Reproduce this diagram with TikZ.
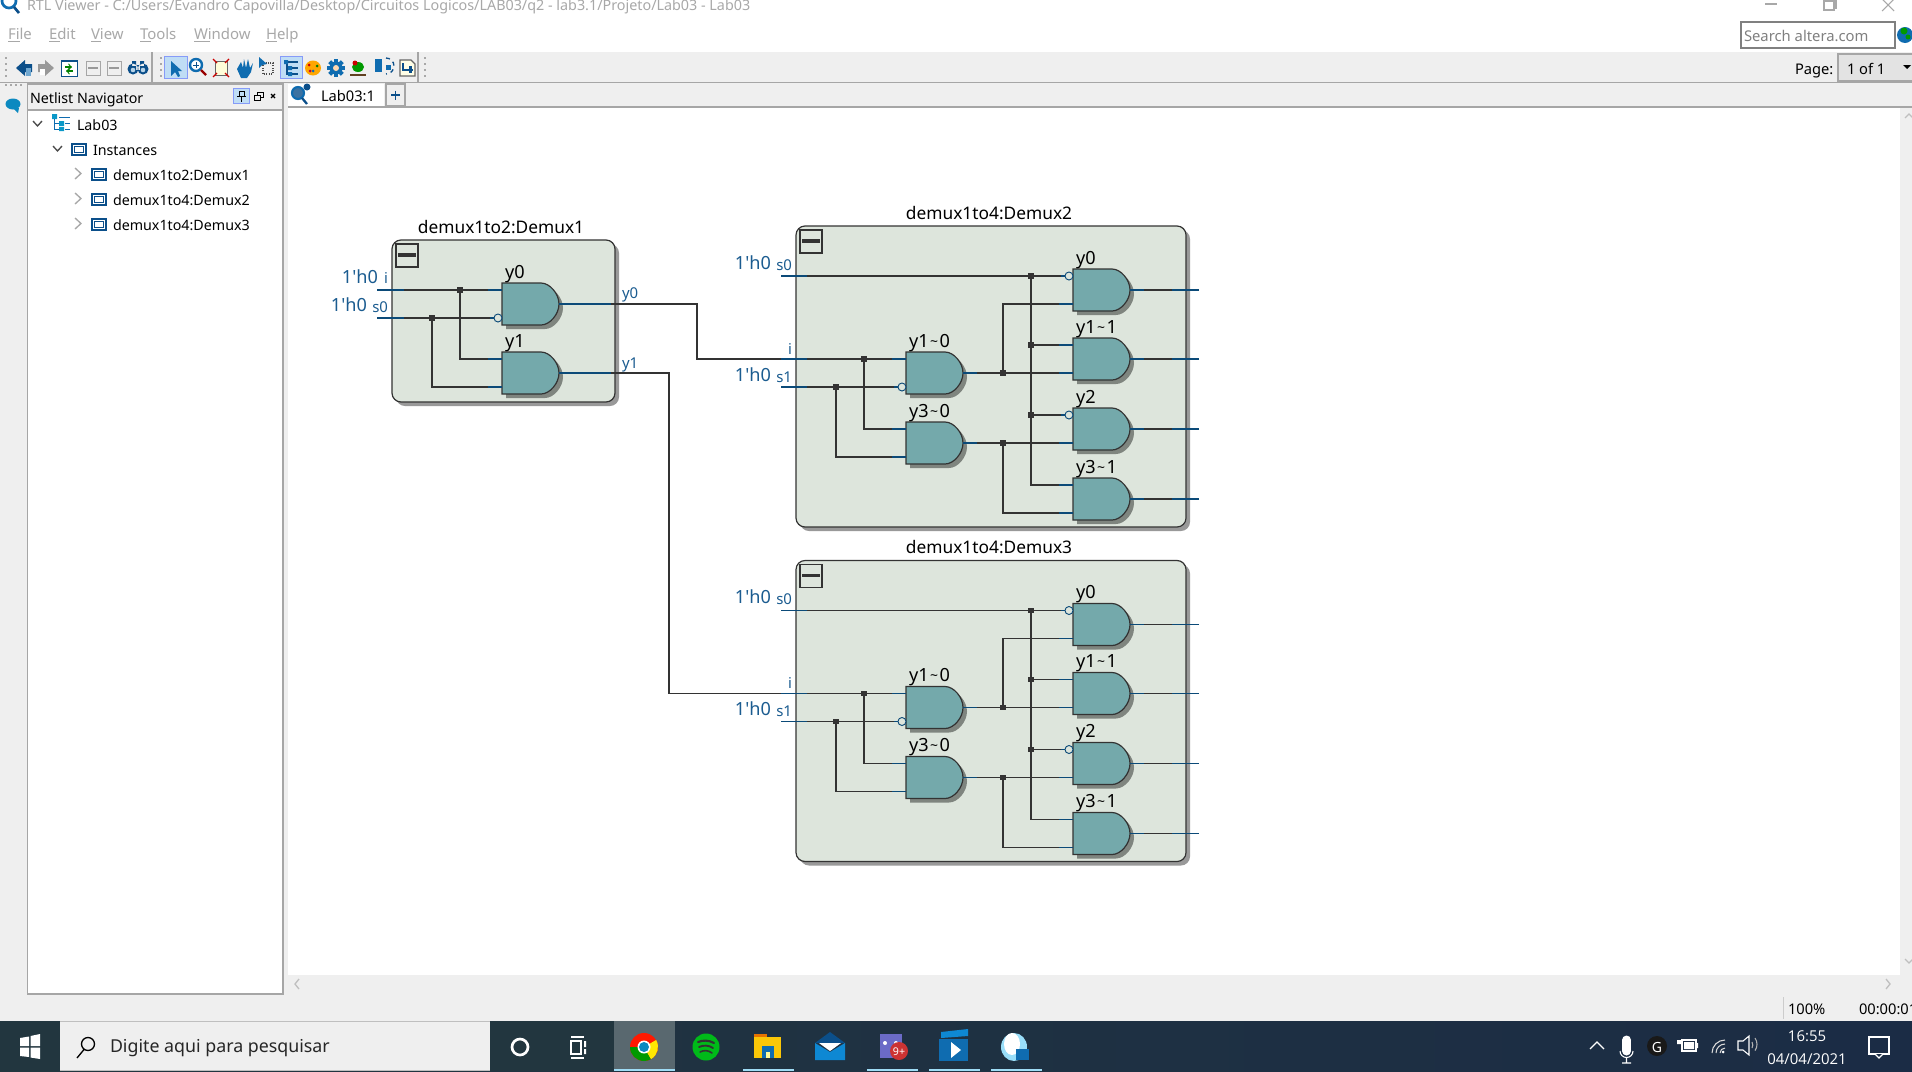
\documentclass[tikz,border=0pt]{standalone}
\usepackage{fontspec}
\setmainfont{Noto Sans}
\newfontfamily\tbfont{Open Sans}
\newfontfamily\plainf{Noto Sans}
\definecolor{wirec}{HTML}{333333}
\definecolor{bluec}{HTML}{0B4A78}
\definecolor{lblc}{HTML}{1B5C90}
\definecolor{boxc}{HTML}{DDE5DC}
\definecolor{boxs}{HTML}{999999}
\definecolor{gatec}{HTML}{74A9AB}
\definecolor{gates}{HTML}{7F857F}
\definecolor{barc}{HTML}{EFEFEF}
\definecolor{edgec}{HTML}{A6A6A6}
\definecolor{hic}{HTML}{BFDDF5}
\definecolor{iconb}{HTML}{0F6CB0}
\definecolor{iconn}{HTML}{0B4F8A}
\definecolor{uic}{HTML}{A8A8A8}
\definecolor{tbl}{HTML}{22363F}
\definecolor{tbr}{HTML}{1B2C45}
\definecolor{ulc}{HTML}{9FDCF5}
\newcount\lblcnt
\newcommand\fs[1]{\fontsize{#1}{#1}\selectfont}
\newcommand\lbl[4][]{\global\advance\lblcnt by 1 \node[txt,#1] (t\the\lblcnt) at (#2,#3) {#4};}
\newcommand\hz{1{\plainf '}h0}
\tikzset{
 x=0.75pt,y=-0.75pt,
 txt/.style={inner sep=0pt,outer sep=0pt,anchor=base west},
 wire/.style={draw=wirec,line width=0.9pt},
 stub/.style={draw=bluec,line width=0.9pt},
 junc/.style={rectangle,fill=wirec,draw=none,minimum size=5.2pt*0.75,inner sep=0pt,outer sep=0pt},
 gatebody/.style={draw=wirec,line width=0.9pt,fill=gatec},
 bub/.style={draw=bluec,line width=0.7pt,fill=boxc},
 big/.style={font=\fs{13}},
 port/.style={font=\fs{13.6},text=lblc},
 small/.style={font=\fs{11.2},text=lblc},
 ui/.style={font=\fs{10.7}},
 menu/.style={font=\fs{11.2},text=uic},
 ic/.style={draw=iconn,line width=1pt},
 hl/.style={fill=hic,draw=hic!70!blue,line width=0.6pt},
 tray/.style={draw=white,line width=0.9pt},
 tbtext/.style={font=\tbfont\fs{11.2},text=white}
}
\newcommand\gate[4]{%
 \begin{scope}[shift={(#2,#3)}]
  \fill[gates] (4,4) -- (43,4) .. controls (52,4) and (61,15) .. (61,25) .. controls (61,35) and (52,46) .. (43,46) -- (4,46) -- cycle;
  \path[gatebody] (0,0) -- (39,0) .. controls (48,0) and (57,11) .. (57,21) .. controls (57,31) and (48,42) .. (39,42) -- (0,42) -- cycle;
  \coordinate (#1a) at (0,7);
  \coordinate (#1b) at (0,35);
  \coordinate (#1n) at (-8,7);
  \coordinate (#1m) at (-8,35);
  \coordinate (#1o) at (57,21);
  \node[txt,big,font=\fs{13.6}] (#1l) at (3,-5) {#4};
 \end{scope}}
\newcommand\hier[6]{%
 \fill[boxs,rounded corners=9*0.75pt] (#2+4,#3+4) rectangle (#4+4,#5+4);
 \draw[draw=wirec,line width=0.9pt,fill=boxc,rounded corners=9*0.75pt] (#2,#3) rectangle (#4,#5);
 \draw[wirec,line width=0.8pt] (#2+4,#3+4) rectangle (#2+26,#3+27);
 \draw[wirec,line width=2.5pt] (#2+6,#3+15) -- (#2+24,#3+15);
 \coordinate (#1) at (#2,#3);
}
\newcommand\tl{\makebox[0.6em]{\raisebox{0.1ex}{\fs{10.5}\char"7E}}}
\newcommand\demuxfour[3]{%
 \begin{scope}[shift={(0,#2)}]
  \hier{#1box}{796}{226}{1186}{527}{}
  \node[txt,big,anchor=base] (#1title) at (989,219) {#3};
  \gate{#1A}{906}{352}{y1\tl 0}
  \gate{#1B}{906}{422}{y3\tl 0}
  \gate{#1C}{1073}{269}{y0}
  \gate{#1D}{1073}{338}{y1\tl 1}
  \gate{#1E}{1073}{408}{y2}
  \gate{#1F}{1073}{478}{y3\tl 1}
  \coordinate (#1ps) at (781,276);
  \coordinate (#1pi) at (781,359);
  \coordinate (#1pt) at (781,387);
  \node[junc] (#1j1) at (1031,276) {};
  \node[junc] (#1j2) at (1031,345) {};
  \node[junc] (#1j3) at (1031,415) {};
  \node[junc] (#1j4) at (864,359) {};
  \node[junc] (#1j5) at (836,387) {};
  \node[junc] (#1j6) at (1003,373) {};
  \node[junc] (#1j7) at (1003,443) {};
  \coordinate (#1q1) at (1199,290);
  \coordinate (#1q2) at (1199,359);
  \coordinate (#1q3) at (1199,429);
  \coordinate (#1q4) at (1199,499);
  \draw[wire] (#1ps) -- (#1j1) -- (#1Cn);
  \draw[wire] (#1j1) -- (#1j2) -- (#1j3) |- (#1Fa);
  \draw[wire] (#1j2) -- (#1Da);
  \draw[wire] (#1j3) -- (#1En);
  \draw[wire] (#1pi) -- (#1j4) -- (#1Aa);
  \draw[wire] (#1j4) |- (#1Ba);
  \draw[wire] (#1pt) -- (#1j5) -- (#1Am);
  \draw[wire] (#1j5) |- (#1Bb);
  \draw[wire] (#1Ao) -- (#1j6) -- (#1Db);
  \draw[wire] (#1j6) |- (#1Cb);
  \draw[wire] (#1Bo) -- (#1j7) -- (#1Eb);
  \draw[wire] (#1j7) |- (#1Fb);
  \draw[wire] (#1Co) -- (#1q1);
  \draw[wire] (#1Do) -- (#1q2);
  \draw[wire] (#1Eo) -- (#1q3);
  \draw[wire] (#1Fo) -- (#1q4);
  \foreach \c in {#1Aa,#1Ba,#1Bb,#1Cb,#1Da,#1Db,#1Eb,#1Fa,#1Fb}{\draw[stub] (\c) -- ++(-14,0);}
  \foreach \c in {#1Am,#1Cn,#1En}{\draw[stub] (\c) -- ++(-4,0);\draw[bub] ($(\c)+(4,0)$) circle (4);}
  \foreach \c in {#1Ao,#1Bo,#1Co,#1Do,#1Eo,#1Fo}{\draw[stub] (\c) -- ++(14,0);}
  \foreach \c in {#1q1,#1q2,#1q3,#1q4}{\draw[stub] (\c) -- ++(-27,0);}
  \foreach \c in {#1ps,#1pi,#1pt}{\draw[stub] (\c) -- ++(26,0);}
  \lbl[port,anchor=base east]{771}{269}{\hz}
  \lbl[small,anchor=base east]{792}{270}{s0}
  \lbl[small,anchor=base east]{792}{354}{i}
  \lbl[port,anchor=base east]{771}{381}{\hz}
  \lbl[small,anchor=base east]{792}{382}{s1}
 \end{scope}}
\usetikzlibrary{calc}
\begin{document}
\begin{tikzpicture}
\useasboundingbox (0,0) rectangle (1912,1071);
\clip (0,0) rectangle (1912,1071);
\fill[white] (0,0) rectangle (1912,1071);
% window chrome
\fill[barc] (0,52) rectangle (1912,1021);
\fill[white] (288,107) rectangle (1900,975);
\draw[edgec,line width=1pt] (0,82.5) -- (1912,82.5);
\draw[edgec,line width=1pt] (288,107) -- (1912,107);
\draw[edgec,line width=0.8pt] (152,52) -- (152,82);
\draw[edgec,line width=0.8pt] (418,52) -- (418,82);
% title bar
\draw[iconb,line width=2pt] (9,1) circle (7);
\draw[iconn,line width=2pt] (14,7) -- (19,13);
\lbl[font=\fs{10.76},text=uic]{27}{10}{RTL Viewer - C:/Users/Evandro Capovilla/Desktop/Circuitos Logicos/LAB03/q2 - lab3.1/Projeto/Lab03 - Lab03}
\draw[uic,line width=0.8pt] (1765,4) -- (1777,4);
\draw[uic,line width=0.8pt] (1824,1) rectangle (1834,10) (1827,1) -- (1827,-1) -- (1836,-1) -- (1836,8) -- (1834,8);
\draw[uic,line width=0.8pt] (1882,-1) -- (1894,11) (1894,-1) -- (1882,11);
\foreach \x/\t in {8/File,49/Edit,91/View,140/Tools,194/Window,266/Help}{\lbl[menu]{\x}{39}{\t}}
\foreach \a/\b in {8/20,49/60,91/101,140/151,194/210,266/277}{\draw[uic,line width=0.6pt] (\a,41) -- (\b,41);}
\draw[gray,line width=0.9pt,fill=white] (1741,22) rectangle (1895,48);
\lbl[font=\fs{11.1},text=gray]{1744}{41}{Search altera.com}
\fill[iconb] (1905,35) circle (8);
\fill[green!60!black] (1904,31) circle (3.5) (1908,37) circle (2.5);
\lbl[ui,font=\fs{11}]{1795}{74}{Page:}
\draw[edgec,fill=black!11,line width=0.8pt] (1838,54) rectangle (1914,81);
\lbl[ui,font=\fs{11}]{1847}{74}{1 of 1}
\fill[black] (1903,65) -- (1911,65) -- (1907,69) -- cycle;
% toolbar
\foreach \x in {5,160,424}{\foreach \y in {57,63,69,75}{\fill[uic] (\x,\y) rectangle (\x+1.5,\y+1.5);}}
\fill[iconn] (16,68) -- (25,60) -- (25,64) -- (32,64) -- (32,72) -- (25,72) -- (25,76) -- cycle;
\fill[iconb!60] (26,68) rectangle (31,76);
\fill[gray!80] (54,68) -- (45,60) -- (45,64) -- (38,64) -- (38,72) -- (45,72) -- (45,76) -- cycle;
\fill[white] (40,69) rectangle (45,75);
\draw[iconn,line width=0.7pt,fill=white] (61,60) rectangle (77,76);
\fill[iconn] (61,60) rectangle (77,62);
\draw[green!50!black,line width=0.9pt,->] (65,67) -- (72,67);
\draw[green!50!black,line width=0.9pt,->] (73,71) -- (66,71);
\foreach \x in {86,107}{\draw[gray!70,line width=0.7pt] (\x,61) rectangle (\x+14,75); \fill[gray!80] (\x+2,66.5) rectangle (\x+12,68.5);}
\fill[iconn] (133,69) circle (5.5) (143,69) circle (5.5) (132,61) rectangle (136,66) (140,61) rectangle (144,66) (136,65) rectangle (140,70);
\fill[iconb!30] (133,70) circle (2.3) (143,70) circle (2.3);
\path[hl] (164,56) rectangle (187,78);
\fill[iconb] (171,61) -- (171,76) -- (175,72) -- (178,77) -- (180,76) -- (178,71) -- (182,71) -- cycle;
\draw[iconb,line width=1.8pt,fill=white] (196,65) circle (6);
\draw[red!60!black,line width=1.8pt] (201,70) -- (206,75);
\draw[iconn,line width=0.7pt] (193,65) -- (199,65) (196,62) -- (196,68);
\fill[yellow!15] (215,61) rectangle (227,75);
\draw[black!60,line width=0.7pt] (215,61) rectangle (227,75);
\draw[red!80!black,line width=1pt] (213,59) -- (217,63) (229,59) -- (225,63) (213,77) -- (217,73) (229,77) -- (225,73);
\fill[iconb] (237,69) -- (241,62) -- (243,68) -- (244,59) -- (246,68) -- (248,59) -- (250,68) -- (253,63) -- (251,72) -- (247,78) -- (241,78) -- cycle;
\draw[black!70,densely dotted,line width=0.8pt] (263,63) rectangle (273,74);
\fill[iconb] (259,57) -- (259,68) -- (262,65) -- (267,64) -- cycle;
\path[hl] (280,56) rectangle (302,78);
\draw[iconn,line width=0.8pt] (284,62) -- (298,62) (290,68) -- (298,68) (290,74) -- (298,74) (287,62) -- (287,74) -- (290,74) (287,68) -- (290,68);
\fill[iconb] (284,60) rectangle (288,64) (288,66) rectangle (292,70) (288,72) rectangle (292,76);
\fill[orange!70!yellow] (313,68) ellipse (8 and 7.5);
\fill[red!80!black] (309,65) circle (1.5); \fill[iconb] (313,71) circle (1.5); \fill[green!50!black] (317,66) circle (1.5); \fill[purple] (310,71) circle (1.5);
\foreach \a in {0,45,...,315}{\fill[iconb,rotate around={\a:(336,68)}] (334,59) rectangle (338,62);}
\fill[iconb] (336,68) circle (6.5); \fill[orange!30] (336,68) circle (3);
\fill[green!60!black] (358,67) ellipse (6 and 5); \fill[red!80!black] (355,63) circle (2.5); \draw[black!50!brown,line width=1.2pt] (350,75) -- (366,75);
\fill[iconb] (375,59) rectangle (382,72); \draw[iconn,line width=1pt,dashed] (386,58) arc (-90:90:8); \fill[iconb] (386,65) rectangle (391,70);
\draw[black!60,fill=yellow!10,line width=0.8pt] (400,60) -- (411,60) -- (415,64) -- (415,76) -- (400,76) -- cycle;
\draw[iconn,line width=1pt] (403,63) -- (403,70) -- (413,70); \fill[iconn] (409,66) rectangle (412,73);
% left bar
\foreach \x in {5,10,15,20}{\fill[uic] (\x,84) rectangle (\x+1.5,85.5);}
\fill[iconb!80!cyan] (13,104) ellipse (7.5 and 5.5);
\fill[iconb!80!cyan] (13,108) -- (19,108) -- (18,113) -- cycle;
% netlist navigator
\fill[white] (27.5,110) rectangle (283,994);
\draw[edgec,line width=1pt] (27.5,84) rectangle (283,994);
\draw[edgec,line width=1pt] (27.5,110) -- (283,110);
\lbl[ui]{30}{103}{Netlist Navigator}
\path[hl] (233,88) rectangle (249,103);
\draw[black,line width=0.7pt] (239,91) rectangle (244,96) (237,96) -- (246,96) (241.5,96) -- (241.5,102);
\draw[black,line width=0.7pt,fill=barc] (257,92) rectangle (263,97);
\draw[black,line width=0.7pt,fill=barc] (254,95) rectangle (260,100);
\draw[black,line width=1pt] (271,94) -- (275,98) (275,94) -- (271,98);
\draw[black!70,line width=1pt] (33,121) -- (37.5,126) -- (42,121);
\draw[black!70,line width=1pt] (53,146) -- (57.5,151) -- (62,146);
\foreach \y in {172,197,222}{\draw[uic,line width=1pt] (75,\y-4) -- (81,\y+1.5) -- (75,\y+7);}
\fill[iconb!70!cyan] (52,114) rectangle (57,119) (59,121) rectangle (64,126) (59,127) rectangle (64,131);
\draw[iconb,line width=0.7pt] (54,119) -- (54,129) -- (59,129) (54,123) -- (59,123) (59,117) -- (70,117) (65,123) -- (70,123) (65,129) -- (70,129);
\foreach \x/\y in {72/144,92/169,92/194,92/219}{\draw[iconn,line width=0.8pt] (\x,\y) rectangle (\x+14,\y+11); \draw[iconn,line width=0.6pt] (\x+2.5,\y+2.5) rectangle (\x+11.5,\y+8.5);}
\lbl[ui]{77}{130}{Lab03}
\lbl[ui]{93}{155}{Instances}
\lbl[ui]{113}{180}{demux1to2:Demux1}
\lbl[ui]{113}{205}{demux1to4:Demux2}
\lbl[ui]{113}{230}{demux1to4:Demux3}
% tabs
\fill[white] (288,84) rectangle (384,106);
\draw[edgec,line width=0.8pt,fill=barc] (386,84) rectangle (405,106);
\draw[iconn,line width=1.3pt] (391,95) -- (400,95) (395.5,90.5) -- (395.5,99.5);
\draw[iconb,line width=1.6pt,fill=iconn!80] (298,93) circle (6);
\fill[iconn] (307,87) circle (3.5);
\draw[iconn,line width=1.7pt] (302,98) -- (307,104);
\lbl[ui,font=\fs{11}]{321}{101}{Lab03:1}
% scroll hints
\draw[black!25,line width=1pt] (299,979) -- (295,984) -- (299,989);
\draw[black!25,line width=1pt] (1886,979) -- (1890,984) -- (1886,989);
\draw[black!25,line width=1pt] (1905,118) -- (1909,114) -- (1913,118);
\draw[black!25,line width=1pt] (1905,959) -- (1909,963) -- (1913,959);
% status
\draw[black!20,line width=0.7pt] (1783,997) -- (1783,1019);
\lbl[ui,font=\fs{11}]{1788}{1014}{100\%}
\lbl[ui,font=\fs{11}]{1859}{1014}{00:00:01}
% Demux1
\hier{dabox}{392}{240}{615}{402}{}
\node[txt,big,anchor=base] (datitle) at (501,233) {demux1to2:Demux1};
\gate{daA}{502}{283}{y0}
\gate{daB}{502}{352}{y1}
\coordinate (dapi) at (377,290);
\coordinate (daps) at (377,318);
\node[junc] (daj1) at (460,290) {};
\node[junc] (daj2) at (432,318) {};
\draw[wire] (dapi) -- (daj1) -- (daAa);
\draw[wire] (daj1) |- (daBa);
\draw[wire] (daps) -- (daj2) -- (daAm);
\draw[wire] (daj2) |- (daBb);
\foreach \c in {daAa,daBa,daBb}{\draw[stub] (\c) -- ++(-14,0);}
\draw[stub] (daAm) -- ++(-4,0);
\draw[bub] ($(daAm)+(4,0)$) circle (4);
\foreach \c in {dapi,daps}{\draw[stub] (\c) -- ++(27,0);}
\lbl[port,anchor=base east]{378}{283}{\hz}
\lbl[small,anchor=base east]{388}{283}{i}
\lbl[port,anchor=base east]{367}{311}{\hz}
\lbl[small,anchor=base east]{388}{312}{s0}
\lbl[small]{622}{298}{y0}
\lbl[small]{622}{368}{y1}
% Demux2, Demux3
\demuxfour{db}{0}{demux1to4:Demux2}
\demuxfour{dc}{334.5}{demux1to4:Demux3}
% links between blocks
\coordinate (bend1) at (697,304);
\coordinate (bend2) at (669,373);
\draw[wire] (daAo) -- (bend1) |- (dbpi);
\draw[wire] (daBo) -- (bend2) |- (dcpi);
\foreach \c in {daAo,daBo}{\draw[stub] (\c) -- ++(52,0);}
% taskbar
\shade[left color=tbl,right color=tbr] (0,1021) rectangle (1912,1071);
\fill[barc] (60,1021) rectangle (490,1071);
\draw[black!25,line width=0.8pt] (60,1021.5) -- (490,1021.5);
\draw[black!25,line width=0.8pt] (60,1070.5) -- (490,1070.5);
\fill[tbl] (490,1021) rectangle (614,1071);
\fill[white] (20,1038) -- (29,1036.5) -- (29,1046) -- (20,1046) -- cycle (30.5,1036) -- (40,1034) -- (40,1046) -- (30.5,1046) -- cycle (20,1047.5) -- (29,1047.5) -- (29,1057) -- (20,1056) -- cycle (30.5,1047.5) -- (40,1047.5) -- (40,1059) -- (30.5,1057.5) -- cycle;
\draw[black,line width=1pt] (88,1044) circle (6.5) (84,1049.5) -- (77,1058);
\lbl[font=\fs{13.35},text=black!85]{110}{1052}{Digite aqui para pesquisar}
\draw[white,line width=2pt] (520,1047) circle (8);
\draw[white,line width=0.8pt] (571,1037) -- (584,1037) (571,1058) -- (584,1058);
\draw[white,line width=0.8pt] (571,1041) rectangle (581,1054);
\fill[white] (584,1041) rectangle (586,1047) (584,1049) rectangle (586,1054);
\fill[white!25!tbl] (614,1021) rectangle (675,1071);
\foreach \a/\b in {614/675,743/794,867/918,929/980,991/1042}{\fill[ulc] (\a,1068.5) rectangle (\b,1071);}
% chrome
\fill[red!80!orange] (644,1047) circle (14);
\fill[green!60!black] (644,1047) -- (630,1047) arc (180:60:14) -- cycle;
\fill[yellow!90!orange] (644,1047) -- (651,1059.1) arc (60:-30:14) -- cycle;
\fill[white] (644,1047) circle (6.5);
\fill[iconb!80!cyan] (644,1047) circle (5);
% spotify
\fill[green!70!black!90!cyan] (706,1047) circle (13.5);
\draw[black!80,line width=1.6pt,line cap=round] (698,1042) .. controls (703,1040) and (709,1040) .. (714,1043);
\draw[black!80,line width=1.4pt,line cap=round] (699,1047) .. controls (703,1045) and (709,1045) .. (713,1048);
\draw[black!80,line width=1.2pt,line cap=round] (700,1052) .. controls (704,1050) and (708,1050) .. (712,1053);
% folder
\fill[orange!90!black] (754,1034) rectangle (767,1040);
\fill[yellow!60!orange] (754,1037) rectangle (781,1058);
\fill[iconb] (762,1046) rectangle (774,1058);
\fill[yellow!40] (766,1052) rectangle (770,1058);
% mail
\fill[iconn] (830,1032) -- (845,1043) -- (815,1043) -- cycle;
\fill[cyan!70!blue] (815,1043) -- (830,1052) -- (845,1043) -- (845,1060) -- (815,1060) -- cycle;
\fill[white] (819,1043) -- (841,1043) -- (830,1051) -- cycle;
% discord
\fill[blue!45!gray!80] (880,1034) rectangle (902,1058);
\fill[white] (885,1043) circle (2) (896,1043) circle (2);
\fill[red!75!black!80!white] (899,1051) circle (9);
\lbl[font=\fs{8},text=white,anchor=base]{899}{1055}{9+}
% video
\fill[iconb] (939,1039) rectangle (968,1061);
\fill[cyan!70!blue] (941,1032) -- (968,1029) -- (968,1036) -- (941,1038) -- cycle;
\fill[white] (951,1042) -- (961,1050) -- (951,1058) -- cycle;
% sphere
\fill[cyan!40] (1014,1047) ellipse (13 and 14);
\fill[white] (1012,1044) ellipse (8 and 11);
\fill[iconb] (1016,1049) rectangle (1029,1060);
% tray
\draw[tray] (1590,1049) -- (1597,1042) -- (1604,1049);
\fill[white] (1622,1040) rectangle (1631,1051);
\fill[white] (1626.5,1040) circle (4.5) (1626.5,1051) circle (4.5);
\draw[white,line width=0.8pt] (1620,1051) arc (180:0:6.5) (1626.5,1058) -- (1626.5,1063) (1622,1063) -- (1631,1063);
\fill[black!90] (1657,1046) circle (10);
\node[txt,anchor=base,font=\fs{10.5},text=white] (gmark) at (1657,1052) {G};
\draw[white,line width=0.9pt] (1682,1040) rectangle (1696,1051);
\fill[white] (1684,1042) rectangle (1694,1049) (1696,1043) rectangle (1698,1048) (1677,1040) rectangle (1682,1044);
\draw[white!85!black,line width=0.8pt] (1712,1053) arc (180:270:13 and 13) (1716,1053) arc (180:270:9 and 9) (1720,1053) arc (180:270:5 and 5);
\fill[white] (1723,1052) circle (1.5);
\draw[white,line width=0.8pt] (1738,1041) -- (1743,1041) -- (1749,1036) -- (1749,1055) -- (1743,1050) -- (1738,1050) -- cycle;
\draw[white!70!black,line width=0.8pt] (1752,1042) arc (-30:30:6) (1755,1038) arc (-35:35:11);
\lbl[tbtext,anchor=base]{1807}{1041}{16:55}
\lbl[tbtext,anchor=base]{1807}{1064}{04/04/2021}
\draw[white,line width=0.9pt] (1869,1037) rectangle (1889,1054);
\path[fill=tbr,draw=white,line width=0.9pt] (1875,1054) -- (1879,1058) -- (1883,1054);
\end{tikzpicture}
\end{document}
